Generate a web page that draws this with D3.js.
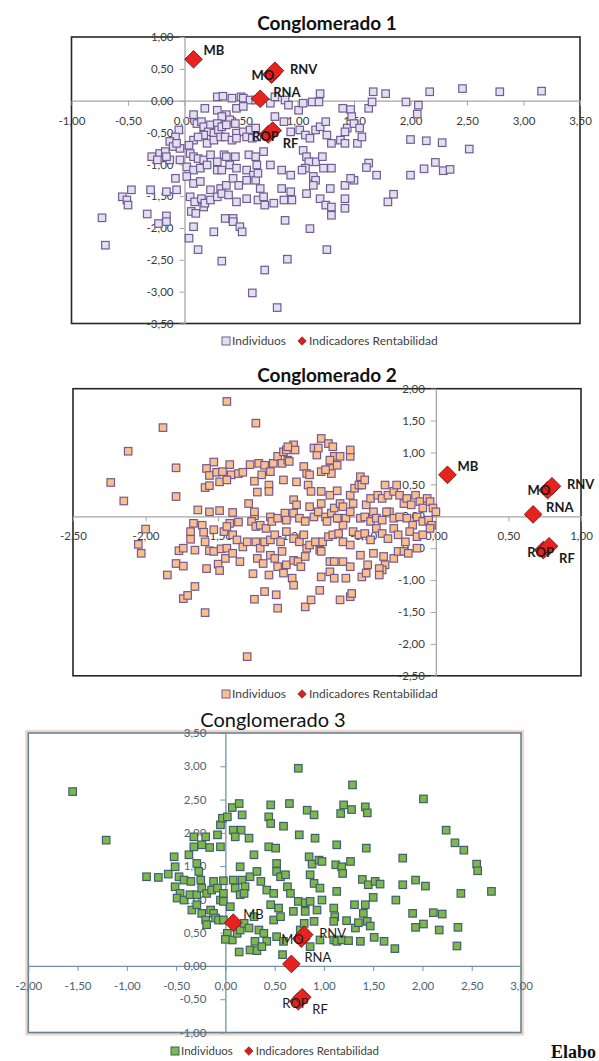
<!DOCTYPE html>
<html>
<head>
<meta charset="utf-8">
<script src="https://cdn.jsdelivr.net/npm/d3@7"></script>
<style>
  html, body { margin: 0; padding: 0; background: #fff; overflow: hidden; }
  svg { display: block; }
</style>
</head>
<body>
<svg id="chart" width="599" height="1061"></svg>
<script>

// ---------------------------------------------------------------- data

const titulos = ['Conglomerado 1', 'Conglomerado 2', 'Conglomerado 3']
const leyenda = ['Individuos', 'Indicadores Rentabilidad']
const fuente = 'Elabo'   // only this much of the source line is visible

// MO drawn before RNV and ROP before RF, as in the original (they overlap)
const indicadores = [
  {name: 'MB',  x: 0.08, y: 0.65},
  {name: 'MO',  x: 0.77, y: 0.41},
  {name: 'RNV', x: 0.80, y: 0.47},
  {name: 'RNA', x: 0.67, y: 0.03},
  {name: 'ROP', x: 0.74, y: -0.53},
  {name: 'RF',  x: 0.78, y: -0.47}
]

const ticksX1 = [-1, -0.5, 0, 0.5, 1, 1.5, 2, 2.5, 3, 3.5]
const ticksY1 = [1, 0.5, 0, -0.5, -1, -1.5, -2, -2.5, -3, -3.5]
const ticksX2 = [-2.5, -2, -1.5, -1, -0.5, 0, 0.5, 1]
const ticksY2 = [2, 1.5, 1, 0.5, 0, -0.5, -1, -1.5, -2, -2.5]
const ticksX3 = [-2, -1.5, -1, -0.5, 0, 0.5, 1, 1.5, 2, 2.5, 3]
const ticksY3 = [3.5, 3, 2.5, 2, 1.5, 1, 0.5, 0, -0.5, -1]

const individuos1 = [
[0.29,0.06],[0.34,0.07],[0.42,0.04],[0.50,0.06],[0.52,0.04],[0.58,0.01],[0.63,0.01],
[0.18,-0.12],[0.29,-0.15],[0.37,-0.22],[0.46,-0.12],[0.52,-0.09],[0.40,-0.30],[0.33,-0.25],
[0.08,-0.22],[0.11,-0.36],[0.15,-0.33],[0.17,-0.41],[0.23,-0.38],[0.29,-0.36],[0.21,-0.49],[0.26,-0.51],[0.30,-0.46],[0.33,-0.41],[0.37,-0.38],[0.45,-0.36],[0.46,-0.51],[0.52,-0.49],[0.58,-0.46],[0.63,-0.43],
[-0.05,-0.46],[-0.08,-0.57],[-0.13,-0.64],[-0.10,-0.72],[-0.04,-0.75],[-0.07,-0.67],
[0.17,-0.54],[0.20,-0.67],[0.26,-0.62],[0.32,-0.57],[0.36,-0.57],[0.42,-0.62],[0.46,-0.59],[0.55,-0.57],[0.60,-0.59],[0.64,-0.57],
[0.08,-0.62],[0.12,-0.57],[0.04,-0.70],
[-0.29,-0.88],[-0.22,-0.83],[-0.17,-0.80],[-0.13,-0.93],[-0.04,-0.93],[-0.16,-0.88],[-0.24,-0.93],
[0.05,-0.83],[0.08,-0.88],[0.12,-0.91],[0.17,-0.93],[0.23,-0.85],[0.29,-0.96],[0.35,-0.85],[0.37,-0.88],[0.45,-0.88],[0.57,-0.85],[0.63,-0.88],
[0.02,-1.04],[0.08,-1.09],[0.14,-1.06],[0.20,-1.01],[0.29,-1.09],[0.33,-1.09],[0.40,-1.01],[0.46,-1.06],[0.55,-1.09],[0.61,-1.17],[0.64,-1.01],
[-0.08,-1.22],[0.02,-1.19],[0.08,-1.30],[0.14,-1.27],[0.23,-1.40],[0.32,-1.38],[0.37,-1.33],[0.43,-1.22],[0.48,-1.33],[0.55,-1.25],[0.63,-1.25],[0.65,-1.14],
[-0.47,-1.40],[-0.55,-1.51],[-0.51,-1.56],[-0.50,-1.64],[-0.30,-1.40],[-0.16,-1.43],[-0.07,-1.40],
[0.05,-1.51],[0.09,-1.59],[0.15,-1.54],[0.17,-1.67],[0.18,-1.61],[0.23,-1.56],[0.29,-1.51],[0.33,-1.46],[0.39,-1.48],[0.46,-1.59],[0.55,-1.54],[0.65,-1.56],
[-0.73,-1.84],[-0.70,-2.27],[-0.33,-1.78],[-0.23,-1.93],[-0.16,-1.81],[-0.16,-1.90],[0.06,-1.74],[0.10,-1.77],[0.08,-1.98],[0.04,-2.16],[0.12,-2.34],[0.26,-2.06],[0.36,-1.85],[0.43,-1.85],[0.43,-1.90],[0.49,-1.98],[0.51,-2.06],[0.33,-2.52],[0.60,-3.02],
[0.76,-0.04],[0.80,0.06],[0.89,0.01],[0.92,-0.07],[1.01,-0.15],[1.05,-0.04],[1.13,-0.02],[1.19,-0.02],[1.20,0.11],[1.40,-0.12],[1.47,-0.14],[1.48,-0.25],[1.44,-0.43],[1.42,-0.49],[1.50,-0.36],[1.55,-0.43],[1.63,-0.12],[1.66,-0.02],[1.67,0.14],[1.78,0.11],[1.96,-0.02],[2.07,-0.07],[2.17,0.14],
[0.80,-0.25],[0.88,-0.33],[0.94,-0.49],[1.02,-0.46],[1.07,-0.54],[1.11,-0.59],[1.16,-0.46],[1.20,-0.41],[1.26,-0.54],[1.25,-0.33],[1.30,-0.67],[1.38,-0.62],[1.42,-0.67],[1.53,-0.67],[1.57,-0.57],[2.00,-0.61],[2.14,-0.63],[2.28,-0.66],
[0.70,-0.80],[0.76,-1.01],[0.86,-1.09],[0.94,-1.17],[1.05,-0.78],[1.08,-0.88],[1.16,-0.96],[1.10,-0.96],[1.22,-0.88],[1.23,-1.06],[1.30,-1.06],[1.07,-1.06],[1.04,-1.09],[1.14,-1.19],[1.16,-1.25],[1.14,-1.33],[1.63,-0.98],[1.61,-1.05],[1.70,-1.17],[2.00,-1.17],[2.12,-1.07],[2.22,-0.97],[2.29,-1.10],
[0.67,-1.38],[0.70,-1.51],[0.71,-1.64],[0.79,-1.61],[0.88,-1.56],[0.86,-1.38],[0.94,-1.43],[0.95,-1.56],[1.08,-1.46],[1.20,-1.54],[1.25,-1.64],[1.30,-1.67],[1.30,-1.80],[1.29,-1.38],[1.42,-1.33],[1.42,-1.54],[1.42,-1.69],[1.50,-1.25],[1.47,-1.22],[1.85,-1.47],[1.80,-1.59],
[0.89,-1.88],[1.11,-2.01],[1.26,-2.34],[0.91,-2.49],[0.71,-2.66],[0.82,-3.25],
[2.46,0.19],[2.79,0.14],[3.16,0.15],[2.52,-0.76],[2.35,-1.08],[2.06,-0.21]
]

const individuos2 = [
[-1.44,1.80],[-1.88,1.39],[-1.24,1.46],[-2.12,1.02],[-2.24,0.53],[-2.15,0.24],[-1.79,0.76],[-1.79,0.31],
[-1.53,0.85],[-1.58,0.75],[-1.56,0.64],[-1.51,0.69],[-1.47,0.70],[-1.42,0.81],[-1.41,0.65],[-1.36,0.67],[-1.33,0.69],[-1.28,0.81],[-1.25,0.55],[-1.22,0.83],
[-1.59,0.45],[-1.56,0.48],[-1.49,0.54],[-1.44,0.57],[-1.23,0.38],
[-1.64,0.10],[-1.56,0.07],[-1.49,0.09],[-1.40,0.06],[-1.29,0.20],[-1.25,0.01],[-1.25,0.07],
[-2.00,-0.20],[-2.05,-0.44],[-2.03,-0.58],
[-1.67,-0.11],[-1.61,-0.14],[-1.69,-0.24],[-1.69,-0.36],[-1.60,-0.25],[-1.53,-0.21],[-1.46,-0.24],[-1.42,-0.11],[-1.36,-0.09],[-1.44,-0.16],[-1.40,-0.29],[-1.27,-0.08],[-1.24,-0.16],
[-1.66,-0.53],[-1.59,-0.40],[-1.56,-0.54],[-1.53,-0.55],[-1.48,-0.51],[-1.44,-0.50],[-1.37,-0.37],[-1.33,-0.48],[-1.30,-0.40],[-1.24,-0.40],
[-1.77,-0.54],[-1.74,-0.50],[-1.79,-0.74],[-1.74,-0.78],[-1.85,-0.92],[-1.58,-0.82],[-1.50,-0.75],[-1.49,-0.85],[-1.45,-0.66],[-1.40,-0.58],[-1.35,-0.71],[-1.26,-0.90],[-1.23,-0.66],
[-1.66,-1.10],[-1.74,-1.29],[-1.71,-1.24],[-1.59,-1.51],[-1.25,-1.30],[-1.30,-2.20],
[-1.20,0.65],[-1.18,0.80],[-1.15,0.49],[-1.14,0.70],[-1.12,0.83],[-1.09,0.94],[-1.06,0.83],[-1.05,1.01],[-1.03,1.04],[-1.02,0.88],[-1.01,0.86],[-0.98,1.12],[-0.97,1.04],[-1.02,1.09],
[-0.91,0.78],[-0.89,0.67],[-0.87,0.65],[-0.88,0.49],[-0.84,1.07],[-0.82,0.96],[-0.81,1.07],[-0.79,1.22],[-0.74,1.14],[-0.73,0.75],[-0.72,0.67],[-0.71,1.09],[-0.70,0.94],[-0.73,0.88],[-0.68,0.80],[-0.66,0.94],[-0.59,0.94],[-0.59,1.04],[-0.79,0.70],[-0.76,0.73],
[-1.15,0.39],[-1.05,0.57],[-0.96,0.54],[-0.86,0.39],[-0.79,0.39],[-0.73,0.33],[-0.68,0.40],
[-1.21,-0.14],[-1.17,-0.19],[-1.14,-0.01],[-1.13,-0.08],[-1.09,-0.03],[-1.04,0.05],[-1.03,-0.06],[-0.98,0.05],[-0.98,0.26],[-0.96,0.18],[-0.94,-0.03],[-0.90,-0.08],[-0.87,0.15],[-0.84,-0.01],[-0.81,0.07],[-0.79,0.20],[-0.76,-0.01],[-0.75,-0.08],[-0.72,0.05],[-0.70,0.13],[-0.67,-0.03],[-0.66,0.20],[-0.64,0.15],[-0.62,-0.03],[-0.59,0.33],[-0.57,0.20],[-0.56,0.44],[-0.53,0.49],[-0.52,0.62],[-0.51,0.49],[-0.49,0.57],[-0.48,0.18],[-0.45,0.28],[-0.43,0.07],[-0.40,0.33],[-0.37,0.28],[-0.35,0.49],[-0.33,0.33],[-0.32,0.07],[-0.29,0.39],[-0.27,0.49],[-0.25,0.33],[-0.22,0.20],[-0.20,0.28],[-0.17,0.18],[-0.14,0.33],[-0.11,0.23],[-0.09,0.13],[-0.06,0.28],[-0.04,0.23],[-0.02,0.13],[0.00,0.07],
[-0.52,-0.03],[-0.49,-0.01],[-0.45,-0.08],[-0.41,-0.03],[-0.37,-0.06],[-0.34,0.07],[-0.29,-0.03],[-0.25,-0.01],[-0.20,-0.03],[-0.16,-0.14],[-0.13,-0.01],[-0.09,-0.08],[-0.05,-0.06],[-0.03,-0.14],[-0.59,0.07],[-0.64,-0.14],[-0.68,-0.03],
[-1.21,-0.50],[-1.18,-0.40],[-1.14,-0.37],[-1.11,-0.29],[-1.07,-0.40],[-1.06,-0.55],[-1.03,-0.24],[-0.98,-0.35],[-0.94,-0.40],[-0.91,-0.29],[-0.89,-0.50],[-0.87,-0.45],[-0.83,-0.40],[-0.80,-0.53],[-0.78,-0.40],[-0.74,-0.32],[-0.71,-0.29],[-0.67,-0.27],[-0.64,-0.40],[-0.59,-0.45],[-0.57,-0.24],[-0.53,-0.29],[-0.49,-0.27],[-0.45,-0.37],[-0.41,-0.19],[-0.37,-0.27],[-0.33,-0.35],[-0.29,-0.19],[-0.26,-0.29],[-0.21,-0.40],[-0.18,-0.24],[-0.13,-0.32],[-0.09,-0.29],[-0.04,-0.19],
[-1.19,-0.74],[-1.14,-0.61],[-1.11,-0.66],[-1.09,-0.79],[-1.03,-0.76],[-0.98,-0.69],[-0.95,-0.71],[-0.93,-0.79],[-0.90,-0.63],[-0.79,-0.55],[-0.73,-0.71],[-0.70,-0.71],[-0.64,-0.71],[-0.59,-0.79],[-0.52,-0.61],[-0.47,-0.76],[-0.43,-0.58],[-0.36,-0.63],[-0.35,-0.76],[-0.29,-0.66],[-0.37,-0.84],[-0.26,-0.55],[-0.22,-0.55],[-0.19,-0.58],[-0.13,-0.50],
[-1.15,-0.92],[-1.05,-0.89],[-0.99,-0.97],[-0.98,-1.08],[-0.79,-0.95],[-0.73,-0.87],[-0.70,-0.97],[-0.62,-0.97],[-0.51,-0.95],[-0.48,-0.89],[-0.39,-0.82],[-0.39,-0.92],
[-1.18,-1.18],[-1.10,-1.23],[-1.09,-1.44],[-0.90,-1.42],[-0.86,-1.31],[-0.80,-1.16],[-0.66,-1.31],[-0.59,-1.26],[-0.58,-1.21]
]

const individuos3 = [
[-1.55,2.62],[-1.21,1.89],[-0.80,1.34],[-0.68,1.33],[-0.58,1.38],[-0.52,1.64],[-0.51,1.49],[-0.47,1.34],[-0.42,1.29],[-0.37,1.67],[-0.35,1.27],[-0.32,1.79],[-0.29,1.54],[-0.27,1.42],[-0.25,1.29],[-0.24,1.82],[-0.16,1.78],[-0.12,1.27],[-0.05,1.79],[-0.02,1.28],
[-0.51,1.19],[-0.46,1.09],[-0.49,1.02],[-0.42,0.99],[-0.36,1.07],[-0.29,1.07],[-0.24,1.17],[-0.19,1.09],[-0.14,1.14],[-0.08,1.17],[-0.05,0.99],[-0.02,0.97],
[-0.34,0.84],[-0.29,0.92],[-0.24,0.79],[-0.15,0.84],[-0.12,0.79],[-0.10,0.72],[-0.07,0.69],[-0.20,0.69],[-0.19,0.62],
[-0.32,1.94],[-0.20,1.94],[-0.08,1.97],[-0.05,2.12],[-0.03,2.22],[0.02,2.24],[0.07,2.38],[0.14,2.44],[0.17,2.27],[0.08,2.04],[0.16,2.04],[0.24,1.92],[0.10,1.94],
[0.46,2.42],[0.65,2.44],[0.44,2.24],[0.46,2.14],[0.59,2.10],[0.75,1.97],
[0.15,1.49],[0.17,1.29],[0.20,1.19],[0.25,1.34],[0.32,1.42],[0.29,1.67],[0.36,1.27],[0.44,1.79],[0.51,1.77],[0.52,1.54],[0.52,1.42],[0.56,1.34],[0.61,1.37],[0.63,1.19],[0.66,1.09],[0.42,1.14],[0.49,1.09],
[0.05,0.89],[0.08,1.29],[0.10,1.17],[0.15,1.07],[0.19,1.09],[-0.02,1.09],
[-0.02,0.69],[0.02,0.49],[0.07,0.39],[0.00,0.40],[0.12,0.49],[0.15,0.54],[0.19,0.64],[0.24,0.57],[0.29,0.74],[0.34,0.54],[0.39,0.49],[0.42,0.37],[0.30,0.37],[0.25,0.24],[0.32,0.23],[0.14,0.21],[0.37,0.29],[0.49,0.69],[0.56,0.74],[0.54,0.87],[0.46,0.92],[0.52,0.44],[0.59,0.37],[0.58,0.17],
[0.69,0.82],[0.74,0.97],[0.81,0.95],[0.81,0.82],[0.76,0.54],[0.80,0.64],[0.74,2.97],
[1.29,2.72],[2.01,2.51],[0.83,2.34],[0.90,2.27],[1.20,2.42],[1.17,2.29],[1.28,2.35],[1.42,2.39],[1.44,2.30],
[0.91,1.92],[1.13,1.82],[1.43,1.77],[2.24,2.04],[2.33,1.85],[2.42,1.74],
[0.85,1.64],[0.88,1.53],[0.95,1.59],[0.98,1.57],[1.12,1.52],[1.18,1.49],[1.19,1.39],[1.27,1.57],[1.80,1.62],[2.55,1.53],[2.56,1.43],
[0.86,1.37],[0.90,1.24],[0.96,1.17],[1.39,1.30],[1.45,1.22],[1.52,1.27],[1.57,1.23],[1.80,1.22],[1.93,1.29],[2.03,1.20],[1.13,1.12],[2.39,1.09],[2.70,1.12],
[0.86,0.97],[0.98,0.99],[0.93,0.84],[1.10,0.87],[1.11,0.74],[1.31,0.92],[1.42,0.92],[1.40,0.79],[1.50,1.03],[1.73,0.99],[1.90,0.79],[2.11,0.80],[2.20,0.78],
[0.90,0.67],[1.10,0.67],[1.23,0.68],[1.32,0.57],[1.35,0.65],[1.44,0.67],[1.47,0.60],[1.93,0.58],[2.01,0.63],[2.17,0.54],[2.36,0.58],
[0.96,0.39],[1.10,0.39],[1.13,0.37],[1.18,0.39],[1.25,0.38],[1.37,0.37],[1.51,0.43],[1.61,0.37],[1.72,0.26],[2.35,0.30],[0.86,0.29]
]

// ---------------------------------------------------------------- layout

// label offsets (px) from the diamond centre
const labelOffset = {MB: [10, -4], MO: [-20, 5], RNV: [15, 3], RNA: [13, -2], ROP: [-16, 7], RF: [10, 17]}

const panels = [
  {title: titulos[0], pts: individuos1, xt: ticksX1, yt: ticksY1,
   box: {x0: 71.5, x1: 580, y0: 37, y1: 323.5},
   titleX: 327, titleY: 30, titleWeight: 700, titleSize: 19,
   legendX: 222, legendY: 341, legendSize: 12,
   fill: '#e4def0', stroke: '#6f5d93',
   frame: '#262626', axis: '#a6a6a6', tickText: '#3c3c3c', yPad: 6, labelWeight: 700},
  {title: titulos[1], pts: individuos2, xt: ticksX2, yt: ticksY2,
   box: {x0: 73, x1: 581, y0: 388.7, y1: 675.8},
   titleX: 327, titleY: 382, titleWeight: 700, titleSize: 19,
   legendX: 222, legendY: 694, legendSize: 12,
   fill: '#fbbf8d', stroke: '#735a91',
   frame: '#262626', axis: '#a6a6a6', tickText: '#3c3c3c', yPad: 6, labelWeight: 700},
  {title: titulos[2], pts: individuos3, xt: ticksX3, yt: ticksY3,
   box: {x0: 28.3, x1: 521, y0: 733, y1: 1032.5},
   titleX: 273, titleY: 727, titleWeight: 400, titleSize: 20,
   legendX: 171, legendY: 1051, legendSize: 11.5,
   fill: '#7fb84a', stroke: '#3f5f70',
   frame: '#5f8797', axis: '#6f93a3', tickText: '#4d6473', yPad: 14, labelWeight: 400, halo: '#f4d2c4'}
]

const fmt = d3.formatLocale({decimal: ',', thousands: '.', grouping: [3], currency: ['', ''], minus: '-'}).format('.2f')

const svg = d3.select('#chart')
const font = 'Lato, "Open Sans", sans-serif'

panels.forEach(p => {

  const g = svg.append('g')

  const x = d3.scaleLinear().domain(d3.extent(p.xt)).range([p.box.x0, p.box.x1])
  const y = d3.scaleLinear().domain(d3.extent(p.yt)).range([p.box.y1, p.box.y0])

  if (p.halo) {
    g.append('rect')
      .attr('x', p.box.x0).attr('y', p.box.y0)
      .attr('width', p.box.x1 - p.box.x0).attr('height', p.box.y1 - p.box.y0)
      .attr('fill', 'none').attr('stroke', p.halo).attr('stroke-width', 6)
  }

  g.append('rect')
    .attr('x', p.box.x0).attr('y', p.box.y0)
    .attr('width', p.box.x1 - p.box.x0).attr('height', p.box.y1 - p.box.y0)
    .attr('fill', '#fff').attr('stroke', p.frame).attr('stroke-width', 1.6)

  const ax = g.append('g')
    .attr('transform', `translate(0,${y(0)})`)
    .call(d3.axisBottom(x).tickValues(p.xt).tickFormat(fmt).tickSize(5).tickPadding(11).tickSizeOuter(0))

  const ay = g.append('g')
    .attr('transform', `translate(${x(0)},0)`)
    .call(d3.axisLeft(y).tickValues(p.yt).tickFormat(fmt).tickSize(5).tickPadding(p.yPad).tickSizeOuter(0))

  ;[ax, ay].forEach(a => {
    a.attr('font-family', font).attr('font-size', 11.5)
    a.select('.domain').attr('stroke', p.axis).attr('stroke-width', 1.3)
    a.selectAll('.tick line').attr('stroke', p.axis).attr('stroke-width', 1)
    a.selectAll('.tick text').attr('fill', p.tickText)
  })

  // individuals
  const s = 7.5
  g.append('g').selectAll('rect')
    .data(p.pts)
    .join('rect')
    .attr('x', d => x(d[0]) - s / 2)
    .attr('y', d => y(d[1]) - s / 2)
    .attr('width', s).attr('height', s)
    .attr('fill', p.fill)
    .attr('stroke', p.stroke)
    .attr('stroke-width', 1.2)

  // profitability indicators
  const diamond = d3.symbol().type(d3.symbolSquare).size(12.5 * 12.5)
  g.append('g').selectAll('path')
    .data(indicadores)
    .join('path')
    .attr('d', diamond)
    .attr('transform', d => `translate(${x(d.x)},${y(d.y)}) rotate(45)`)
    .attr('fill', '#e8221d')
    .attr('stroke', '#6e1010')
    .attr('stroke-width', 0.8)

  g.append('g').selectAll('text')
    .data(indicadores)
    .join('text')
    .attr('x', d => x(d.x) + labelOffset[d.name][0])
    .attr('y', d => y(d.y) + labelOffset[d.name][1])
    .attr('font-family', font)
    .attr('font-size', 13)
    .attr('font-weight', p.labelWeight)
    .attr('fill', '#1a1a1a')
    .text(d => d.name)

  // title
  g.append('text')
    .attr('x', p.titleX).attr('y', p.titleY)
    .attr('text-anchor', 'middle')
    .attr('font-family', font)
    .attr('font-size', p.titleSize)
    .attr('font-weight', p.titleWeight)
    .attr('fill', '#111')
    .text(p.title)

  // legend
  const lg = g.append('g')
    .attr('transform', `translate(${p.legendX},${p.legendY})`)
    .attr('font-family', font)
    .attr('font-size', p.legendSize)
    .attr('fill', '#404040')

  lg.append('rect')
    .attr('x', 0).attr('y', -4).attr('width', 8).attr('height', 8)
    .attr('fill', p.fill).attr('stroke', p.stroke).attr('stroke-width', 1)

  const t1 = lg.append('text').attr('x', 10).attr('y', 4).text(leyenda[0])
  const dx = 10 + t1.node().getComputedTextLength() + 16

  lg.append('path')
    .attr('d', d3.symbol().type(d3.symbolSquare).size(36))
    .attr('transform', `translate(${dx},0) rotate(45)`)
    .attr('fill', '#d9201b').attr('stroke', '#6e1010').attr('stroke-width', 0.6)

  lg.append('text').attr('x', dx + 7).attr('y', 4).text(leyenda[1])
})

// visible part of the source line at the bottom right
svg.append('text')
  .attr('x', 551).attr('y', 1058)
  .attr('font-family', '"Liberation Serif", "DejaVu Serif", serif')
  .attr('font-size', 18)
  .attr('font-weight', 700)
  .attr('fill', '#111')
  .text(fuente)

</script>
</body>
</html>
